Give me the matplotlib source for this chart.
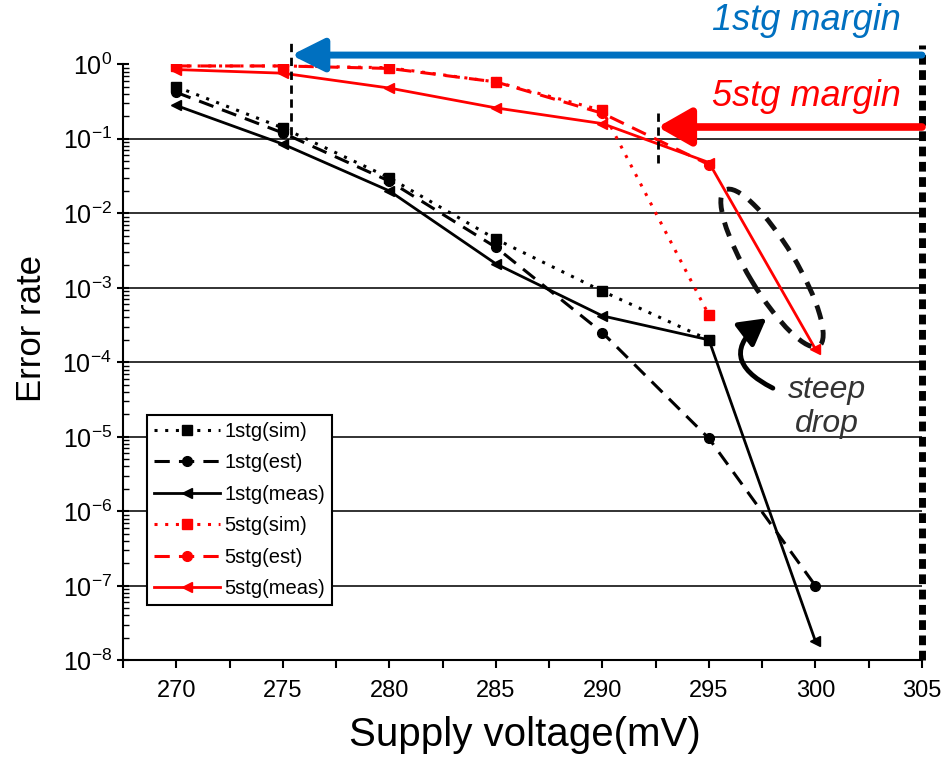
import math
import matplotlib
matplotlib.use('Agg')
import matplotlib.pyplot as plt
import matplotlib.ticker as mticker
from matplotlib.patches import Ellipse
from matplotlib.transforms import IdentityTransform

plt.rcParams['font.family'] = ['Liberation Sans', 'DejaVu Sans']
plt.rcParams['mathtext.fontset'] = 'custom'
plt.rcParams['mathtext.rm'] = 'Liberation Sans'
plt.rcParams['mathtext.it'] = 'Liberation Sans:italic'
plt.rcParams['mathtext.bf'] = 'Liberation Sans:bold'
plt.rcParams['mathtext.default'] = 'rm'

# ---------------- data ----------------
v_1stg_sim = [270, 275, 280, 285, 290, 295]
e_1stg_sim = [0.50, 0.14, 0.030, 0.0045, 9.0e-4, 2.0e-4]

v_1stg_est = [270, 275, 280, 285, 290, 295, 300]
e_1stg_est = [0.42, 0.12, 0.027, 0.0035, 2.5e-4, 9.5e-6, 1.0e-7]

v_1stg_meas = [270, 275, 280, 285, 290, 295, 300]
e_1stg_meas = [0.28, 0.085, 0.020, 0.0021, 4.2e-4, 2.0e-4, 1.8e-8]

v_5stg_sim = [270, 275, 280, 285, 290, 295]
e_5stg_sim = [0.95, 0.95, 0.90, 0.58, 0.24, 4.3e-4]

v_5stg_est = [270, 275, 280, 285, 290, 295]
e_5stg_est = [0.95, 0.95, 0.88, 0.58, 0.22, 0.045]

v_5stg_meas = [270, 275, 280, 285, 290, 295, 300]
e_5stg_meas = [0.85, 0.76, 0.48, 0.26, 0.16, 0.048, 1.5e-4]

x_ticks = [270, 275, 280, 285, 290, 295, 300, 305]
grid_levels = [1e-1, 1e-2, 1e-3, 1e-4, 1e-5, 1e-6, 1e-7]
margin_1stg = 275.4   # left end of 1stg margin arrow
margin_5stg = 292.6   # left end of 5stg margin arrow
margin_ref = 305

RED = '#FF0000'
BLUE = '#0070C0'

fig = plt.figure(figsize=(9.51, 7.57), dpi=100)
ax = fig.add_axes([0.12934, 0.12774, 0.84017, 0.78732])
ax.set_xlim(267.5, 305)
ax.set_yscale('log')
ax.set_ylim(1e-8, 1)

ax.hlines(grid_levels, 267.5, 305, color='#222222', lw=1.3, zorder=1)

ms = 7
ax.plot(v_1stg_sim, e_1stg_sim, color='black', ls=(0, (1, 2.5)), lw=2.2,
        marker='s', ms=ms, label='1stg(sim)', zorder=3)
ax.plot(v_1stg_est, e_1stg_est, color='black', ls=(0, (5, 3)), lw=2.2,
        marker='o', ms=ms, label='1stg(est)', zorder=3)
ax.plot(v_1stg_meas, e_1stg_meas, color='black', ls='-', lw=2,
        marker='<', ms=ms, label='1stg(meas)', zorder=3)
ax.plot(v_5stg_sim, e_5stg_sim, color=RED, ls=(0, (1, 2.5)), lw=2.2,
        marker='s', ms=ms, label='5stg(sim)', zorder=3)
ax.plot(v_5stg_est, e_5stg_est, color=RED, ls=(0, (5, 3)), lw=2.2,
        marker='o', ms=ms, label='5stg(est)', zorder=3)
ax.plot(v_5stg_meas, e_5stg_meas, color=RED, ls='-', lw=2,
        marker='<', ms=ms, label='5stg(meas)', zorder=3)

# spines / ticks
for s in ['top', 'right']:
    ax.spines[s].set_visible(False)
for s in ['left', 'bottom']:
    ax.spines[s].set_linewidth(1.5)
ax.set_xticks(x_ticks)
ax.xaxis.set_minor_locator(mticker.MultipleLocator(2.5))
ax.tick_params(axis='x', which='both', direction='out', length=6, width=1.5,
               labelsize=17, pad=8)
ax.yaxis.set_major_locator(mticker.LogLocator(base=10, numticks=20))
ax.yaxis.set_minor_locator(mticker.LogLocator(base=10, subs=range(2, 10), numticks=20))
ax.yaxis.set_minor_formatter(mticker.NullFormatter())
ax.yaxis.set_major_formatter(mticker.FuncFormatter(
    lambda v, p: r'$10^{%d}$' % round(math.log10(v))))
ax.tick_params(axis='y', which='major', direction='inout', length=8, width=1.5,
               labelsize=18, pad=4)
ax.tick_params(axis='y', which='minor', direction='in', length=4, width=1)

ax.set_xlabel('Supply voltage(mV)', fontsize=29, va='center', ha='center')
ax.xaxis.set_label_coords(0.503, -0.1253)
ax.set_ylabel('Error rate', fontsize=25, va='center', ha='center')
ax.yaxis.set_label_coords(-0.114, 0.557)

# margin annotations
ax.vlines([margin_ref], 1e-8, 1.8, colors='black', lw=5,
          linestyles=[(0, (1.4, 0.8))], clip_on=False, zorder=4)
ax.annotate('', xy=(margin_1stg, 1.33), xytext=(margin_ref, 1.33),
            arrowprops=dict(arrowstyle='-|>,head_length=1.0,head_width=0.5',
                            color=BLUE, lw=5, mutation_scale=20,
                            shrinkA=0, shrinkB=0),
            annotation_clip=False, zorder=5)
ax.annotate('', xy=(margin_5stg, 0.144), xytext=(margin_ref, 0.144),
            arrowprops=dict(arrowstyle='-|>,head_length=1.0,head_width=0.57',
                            color=RED, lw=5.5, mutation_scale=20,
                            shrinkA=0, shrinkB=0),
            annotation_clip=False, zorder=5)
ax.vlines([margin_1stg], 0.112, 2.1, colors='black', lw=2,
          linestyles=[(0, (3, 2))], clip_on=False, zorder=4)
ax.vlines([margin_5stg], 0.047, 0.244, colors='black', lw=2,
          linestyles=[(0, (3, 2))], clip_on=False, zorder=4)

ax.text(304.0, 3.9, '1stg margin', color=BLUE, fontsize=26, style='italic',
        ha='right', va='center', clip_on=False)
ax.text(304.0, 0.37, '5stg margin', color=RED, fontsize=26, style='italic',
        ha='right', va='center', clip_on=False)

# steep drop
fig.canvas.draw()
cx, cy = ax.transData.transform((297.96, 1.84e-3))
ell = Ellipse((cx, cy), 182, 48, angle=-59, transform=IdentityTransform(),
              fill=False, edgecolor='#111111', lw=3.5, ls=(0, (3, 2.2)),
              clip_on=False, zorder=6)
ax.add_artist(ell)
ax.annotate('', xy=(297.7, 3.9e-4), xytext=(298.0, 4.5e-5),
            arrowprops=dict(arrowstyle='-|>,head_length=0.8,head_width=0.45',
                            connectionstyle='arc3,rad=-0.8', color='black',
                            lw=3.5, mutation_scale=20, shrinkA=0, shrinkB=0),
            annotation_clip=False, zorder=6)
ax.text(300.54, 2.5e-5, 'steep\ndrop', color='#333333', fontsize=23,
        style='italic', ha='center', va='center', linespacing=1.15)

leg = ax.legend(loc='upper left', bbox_to_anchor=(0.03, 0.412), frameon=True,
                fancybox=False, edgecolor='black', framealpha=1, fontsize=14.5,
                handlelength=3.3, labelspacing=0.62, borderpad=0.35,
                handletextpad=0.2, borderaxespad=0)
leg.get_frame().set_linewidth(1.5)
leg.set_zorder(7)

fig.savefig('out.png', dpi=100)
